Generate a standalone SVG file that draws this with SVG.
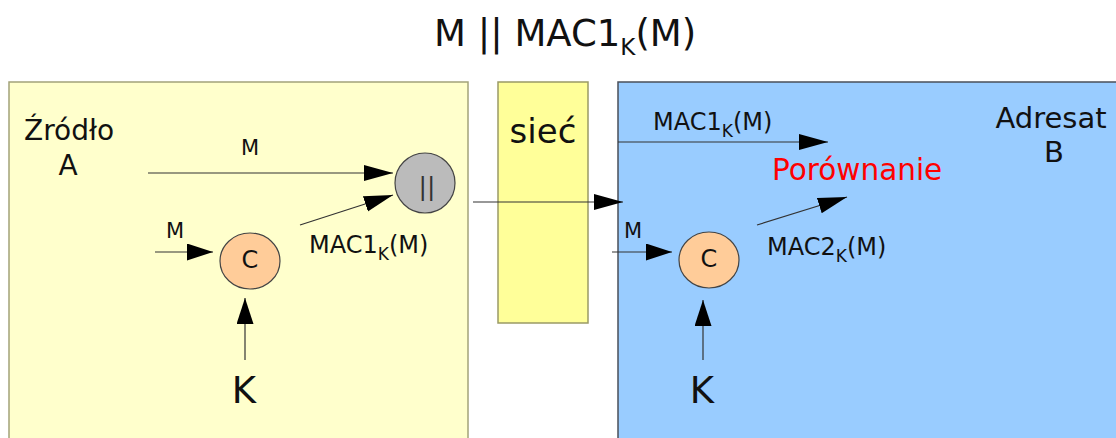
<svg xmlns="http://www.w3.org/2000/svg" width="1116" height="438" viewBox="0 0 1116 438">
  <defs>
    <style>
      text { font-family: "DejaVu Sans", "Liberation Sans", sans-serif; fill: #111; }
      .lbl { font-size: 24px; }
      .sub { font-size: 17px; }
      .m { font-size: 21px; }
      .k { font-size: 37px; text-anchor: middle; }
      .big { font-size: 28px; }
      .conn { stroke: #333; stroke-width: 1.2; fill: none; }
      .big-a { marker-end: url(#headBig); }
      .med-a { marker-end: url(#headMed); }
      .calc { fill: #FFCC99; stroke: #444; stroke-width: 1.2; }
    </style>
    <marker id="headBig" markerUnits="userSpaceOnUse" markerWidth="30" markerHeight="18" refX="29" refY="8" orient="auto">
      <path d="M0,0 L29,8 L0,16 Z" fill="#000"/>
    </marker>
    <marker id="headMed" markerUnits="userSpaceOnUse" markerWidth="27" markerHeight="18" refX="26" refY="8.5" orient="auto">
      <path d="M0,0 L26,8.5 L0,17 Z" fill="#000"/>
    </marker>
  </defs>
  <rect width="1116" height="438" fill="#ffffff"/>

  <text id="title" x="434" y="46" font-size="37">M || MAC1<tspan font-size="23" dy="9">K</tspan><tspan dy="-9">(M)</tspan></text>

  <g id="source">
    <rect x="9" y="82" width="459" height="400" fill="#FFFFCC" stroke="#a3a37a" stroke-width="1.5"/>
    <text class="big" x="24" y="140">Źródło</text>
    <text class="big" x="68" y="175" text-anchor="middle">A</text>
  </g>

  <g id="network">
    <rect x="498" y="82" width="90" height="241" fill="#FFFF99" stroke="#9a9a66" stroke-width="1.5"/>
    <text x="543" y="143" font-size="34" text-anchor="middle">sieć</text>
  </g>

  <g id="destination">
    <rect x="618" y="82" width="520" height="400" fill="#99CCFF" stroke="#4a4f5a" stroke-width="1.5"/>
    <text x="1051" y="128" font-size="29" text-anchor="middle">Adresat</text>
    <text x="1054" y="162" font-size="29" text-anchor="middle">B</text>
    <text x="772" y="180" font-size="29.5" style="fill:#FF0000">Porównanie</text>
  </g>

  <g id="connectors">
    <line class="conn big-a" x1="148" y1="173" x2="393" y2="173"/>
    <line class="conn big-a" x1="300" y1="225" x2="393" y2="195"/>
    <line class="conn med-a" x1="155" y1="252" x2="213" y2="252"/>
    <line class="conn med-a" x1="245" y1="360" x2="245" y2="298"/>
    <line class="conn big-a" x1="473" y1="202" x2="623" y2="202"/>
    <line class="conn big-a" x1="618" y1="142" x2="828" y2="142"/>
    <line class="conn big-a" x1="757" y1="225" x2="847" y2="197"/>
    <line class="conn med-a" x1="612" y1="252" x2="672" y2="252"/>
    <line class="conn med-a" x1="703" y1="360" x2="703" y2="300"/>
  </g>

  <g id="labels">
    <text class="m" x="250" y="155" text-anchor="middle">M</text>
    <text class="m" x="166" y="238">M</text>
    <text class="m" x="624" y="238">M</text>
    <text class="lbl" x="309" y="253">MAC1<tspan class="sub" dy="7">K</tspan><tspan dy="-7">(M)</tspan></text>
    <text class="lbl" x="653" y="130">MAC1<tspan class="sub" dy="7">K</tspan><tspan dy="-7">(M)</tspan></text>
    <text class="lbl" x="767" y="255">MAC2<tspan class="sub" dy="7">K</tspan><tspan dy="-7">(M)</tspan></text>
  </g>

  <g id="concat">
    <circle cx="425" cy="183" r="30" fill="#BBBBBB" stroke="#444" stroke-width="1.2"/>
    <text x="427" y="195" font-size="25" text-anchor="middle" style="fill:#333">||</text>
  </g>

  <g id="calc-a">
    <ellipse class="calc" cx="250" cy="261" rx="30" ry="28"/>
    <text x="250" y="268" font-size="24" text-anchor="middle">C</text>
  </g>

  <g id="calc-b">
    <ellipse class="calc" cx="709" cy="260" rx="30" ry="28"/>
    <text x="709" y="267" font-size="24" text-anchor="middle">C</text>
  </g>

  <g id="key-a">
    <text class="k" x="244" y="403">K</text>
  </g>

  <g id="key-b">
    <text class="k" x="702" y="403">K</text>
  </g>
</svg>
